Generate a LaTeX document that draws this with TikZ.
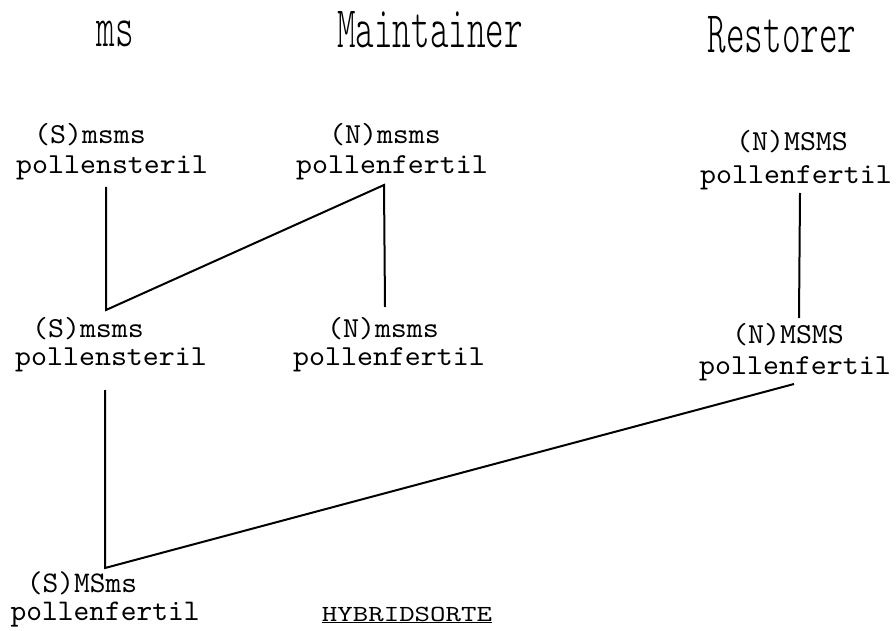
\documentclass[tikz,border=0pt]{standalone}
\usepackage{fontspec}
\newfontfamily\titlefont[FakeStretch=0.6]{lmmonolt10-regular.otf}
\newfontfamily\genofont[FakeStretch=1.05]{lmmono10-regular.otf}
\newfontfamily\lowfont{lmmono10-regular.otf}
\newfontfamily\hybfont[FakeStretch=1.28]{lmmono10-regular.otf}
\tikzset{
  title/.style={anchor=base, inner sep=0pt, font=\fontsize{59}{59}\selectfont\titlefont},
  geno/.style={anchor=base, inner sep=0pt, font=\fontsize{29}{32}\selectfont\genofont},
  low/.style={anchor=base, inner sep=0pt, font=\fontsize{30}{32}\selectfont\lowfont},
  hyb/.style={anchor=base, inner sep=0pt, font=\fontsize{23}{26}\selectfont\hybfont},
  link/.style={line width=2pt, line join=miter}
}
\begin{document}
\begin{tikzpicture}[x=1pt,y=-1pt]
\useasboundingbox (0,0) rectangle (896,631);
% titles
\node[title] (tms) at (115,47) {ms};
\node[title] (tmain) at (430,48) {Maintainer};
\node[title] (trest) at (782,53) {Restorer};
% row 1
\node[geno] (a1) at (90,144) {(S)msms};
\node[geno] (a2) at (112,174) {pollensteril};
\node[geno] (b1) at (385,144) {(N)msms};
\node[geno] (b2) at (392,174) {pollenfertil};
\node[geno] (c1) at (792,151) {(N)MSMS};
\node[geno] (c2) at (796,183) {pollenfertil};
% row 2
\node[geno] (d1) at (88,337) {(S)msms};
\node[geno] (d2) at (111,365) {pollensteril};
\node[geno] (e1) at (383,337) {(N)msms};
\node[geno] (e2) at (389,365) {pollenfertil};
\node[geno] (f1) at (788,343) {(N)MSMS};
\node[geno] (f2) at (795,374) {pollenfertil};
% row 3
\node[low] (g1) at (82,592) {(S)MSms};
\node[low] (g2) at (105,620) {pollenfertil};
\node[hyb] (h) at (407,621) {\underline{HYBRIDSORTE}};
% junctions
\coordinate (j1) at (106,187);
\coordinate (j2) at (106,310);
\coordinate (j3) at (384,185);
\coordinate (j4) at (385,307);
\coordinate (j5) at (800,193);
\coordinate (j6) at (799,318);
\coordinate (j7) at (105,390);
\coordinate (j8) at (105,568);
\coordinate (j9) at (794,384);
\draw[link] (j1) -- (j2) -- (j3) -- (j4);
\draw[link] (j5) -- (j6);
\draw[link] (j7) -- (j8) -- (j9);
\end{tikzpicture}
\end{document}
